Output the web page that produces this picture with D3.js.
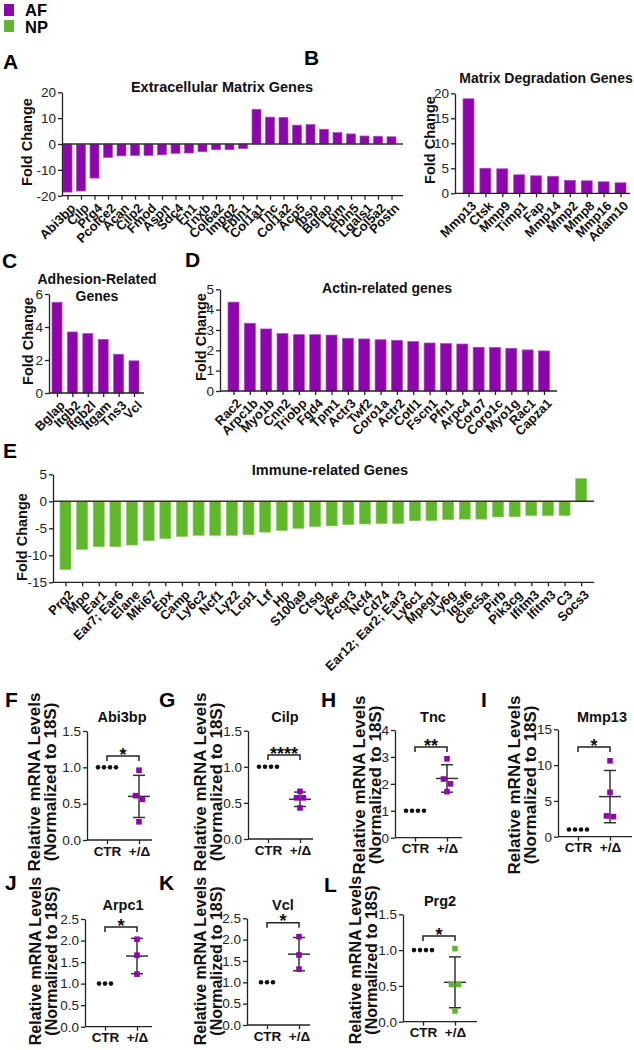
<!DOCTYPE html>
<html>
<head>
<meta charset="utf-8">
<script src="https://cdnjs.cloudflare.com/ajax/libs/d3/7.8.5/d3.min.js"></script>
<style>
body { margin: 0; background: #fff; }
text { font-family: "Liberation Sans", Arial, sans-serif; fill: #111; }
.axis path, .axis line { stroke: #222; stroke-width: 1.3; }
.axis text { font-size: 13.5px; fill: #222; }
.genes text { font-size: 13px; font-weight: bold; fill: #111; }
</style>
</head>
<body>
<div id="fig"></div>
<script>
var svgWidth = 634;
var svgHeight = 1050;

var purple = "#8e04ad", purpleEdge = "#a94cc4";
var green = "#5fb72b", greenEdge = "#86cc5c";

// legend
var legendKeys = ["AF", "NP"];

// A - extracellular matrix
var ecmGenes = ["Abi3bp","Cilp","Prg4","Pcolce2","Acan","Cilp2","Fmod","Aspn","Sdc4","Fn1","Tnxb","Col6a2","Impg2","Fbln1",
  "Col1a1","Tnc","Col1a2","Acp5","Ibsp","Bglap","Lum","Fbln5","Lgals1","Col5a2","Postn"];
var ecmFold = [-18.6,-18.2,-13.2,-5.2,-4.6,-4.4,-4.4,-4.2,-3.6,-3.5,-3.0,-2.2,-2.2,-1.8,
  13.4,10.4,10.3,7.3,7.5,5.7,4.4,3.9,3.1,3.0,2.8];
var ecmTicks = [-20,-10,0,10,20];

// B - matrix degradation
var degGenes = ["Mmp13","Ctsk","Mmp9","Timp1","Fap","Mmp14","Mmp2","Mmp8","Mmp16","Adam10"];
var degFold = [18.9,5.0,4.9,3.7,3.5,3.4,2.6,2.5,2.3,2.1];
var degTicks = [0,5,10,15,20];

// C - adhesion
var adhGenes = ["Bglap","Itgb2","Itgb2l","Itgam","Tns3","Vcl"];
var adhFold = [5.5,3.7,3.6,3.25,2.35,1.95];
var adhTicks = [0,2,4,6];

// D - actin
var actGenes = ["Rac2","Arpc1b","Myo1b","Cnn2","Triobp","Fgd4","Tpm1","Actr3","Twf2","Coro1a","Actr2","Cotl1","Fscn1","Pfn1",
  "Arpc4","Coro7","Coro1c","Myo1g","Rac1","Capza1"];
var actFold = [4.37,3.33,3.05,2.82,2.77,2.77,2.75,2.59,2.56,2.52,2.49,2.43,2.36,2.33,2.31,2.15,2.14,2.10,2.02,1.97];
var actTicks = [0,1,2,3,4,5];

// E - immune
var immGenes = ["Prg2","Mpo","Ear1","Ear7; Ear6","Elane","Mki67","Epx","Camp","Ly6c2","Ncf1","Lyz2","Lcp1","Ltf","Hp","S100a9",
  "Ctsg","Ly6e","Fcgr3","Ncf4","Cd74","Ear12; Ear2; Ear3","Ly6c1","Mpeg1","Ly6g","Igsf6","Clec5a","Pirb","Pik3cg","Ifitm3",
  "Ifitm3","C3","Socs3"];
var immFold = [-12.6,-8.9,-8.4,-8.4,-8.1,-7.3,-6.9,-6.5,-6.3,-6.3,-6.3,-6.2,-5.7,-5.4,-5.0,
  -4.7,-4.55,-4.3,-4.2,-4.1,-4.1,-3.6,-3.55,-3.4,-3.3,-3.3,-2.9,-2.85,-2.65,-2.65,-2.6,4.2];
var immTicks = [-15,-10,-5,0,5];

// F-L qPCR
var qpcrGenes = ["Abi3bp","Cilp","Tnc","Mmp13","Arpc1","Vcl","Prg2"];
var qpcrGroups = ["CTR","+/Δ"];
var qpcrTissue = ["AF","AF","AF","AF","AF","AF","NP"];
var ctrLevels = [[1,1,1,1],[1,1,1,1],[1,1,1,1],[1,1,1,1],[1,1,1],[1,1,1],[1,1,1,1]];
var mutLevels = [[0.96,0.61,0.56,0.25],[0.66,0.57,0.57,0.43],[2.93,2.18,2.0,1.71],[10.6,6.2,2.8,2.9],
  [2.03,1.66,1.22],[2.07,1.64,1.31],[1.02,0.52,0.52,0.15]];
var mutMean = [0.6,0.55,2.2,5.6,1.64,1.66,0.55];
var mutSD = [0.29,0.1,0.51,3.65,0.41,0.39,0.355];
var qpcrMax = [1.5,1.5,4,15,2.5,2.5,1.5];
var qpcrStep = [0.5,0.5,1,5,0.5,0.5,0.5];
var qpcrStars = ["*","****","**","*","*","*","*"];

var svg = d3.select("#fig").append("svg")
  .attr("width", svgWidth)
  .attr("height", svgHeight);

function tissueColor(t) { return t === "AF" ? purple : green; }

// plain hyphen minus like the original figure
var intFmt = d => String(d);

// legend
legendKeys.forEach(function(k, i) {
  svg.append("rect").attr("x", 4).attr("y", 4 + i * 16).attr("width", 10).attr("height", 12)
    .attr("fill", tissueColor(k));
  svg.append("text").attr("x", 25).attr("y", 16 + i * 17).text(k)
    .attr("font-size", 16.5).attr("font-weight", "bold").style("fill", "#000");
});

function letter(t, x, y) {
  svg.append("text").attr("x", x).attr("y", y).text(t)
    .attr("font-size", 21).attr("font-weight", "bold").style("fill", "#000");
}

function yTitle(lines, x, y, size, gap) {
  lines.forEach(function(s, i) {
    svg.append("text")
      .attr("transform", `translate(${x + i * gap}, ${y}) rotate(-90)`)
      .attr("text-anchor", "middle")
      .attr("font-size", size).attr("font-weight", "bold")
      .text(s);
  });
}

// bar chart panels
function barPanel(o) {
  var g = svg.append("g");
  var n = o.genes.length;
  var x = d3.scalePoint().domain(d3.range(n)).range([o.c0, o.c1]);
  var y = d3.scaleLinear().domain(o.domain).range([o.yb, o.yt]);

  g.selectAll("rect.bar").data(o.vals).enter().append("rect")
    .attr("x", (d, i) => x(i) - o.bw / 2)
    .attr("width", o.bw)
    .attr("y", d => y(Math.max(0, d)))
    .attr("height", d => Math.abs(y(d) - y(0)))
    .attr("fill", o.color)
    .attr("stroke", o.edge)
    .attr("stroke-width", 0.7);

  g.append("g").attr("class", "axis")
    .attr("transform", `translate(${o.ax}, 0)`)
    .call(d3.axisLeft(y).tickValues(o.ticks).tickFormat(intFmt)
      .tickSize(4).tickSizeOuter(0).tickPadding(2));

  var base = y(o.domain[0]);
  var xAxis = g.append("g").attr("class", "axis genes")
    .attr("transform", `translate(0, ${base})`)
    .call(d3.axisBottom(x).tickSize(4).tickSizeOuter(0).tickFormat(i => o.genes[i]));
  xAxis.select(".domain").remove();
  xAxis.append("line").attr("x1", o.ax).attr("x2", o.xEnd).attr("y1", 0).attr("y2", 0)
    .attr("stroke", "#222").attr("stroke-width", 1.3);
  xAxis.selectAll("text")
    .attr("x", 0).attr("y", 0).attr("dy", "0.35em")
    .attr("transform", "translate(5,10) rotate(-45)")
    .style("text-anchor", "end");

  // zero line for panels with negative values
  if (o.domain[0] < 0) {
    g.append("line").attr("x1", o.ax).attr("x2", o.xEnd)
      .attr("y1", y(0)).attr("y2", y(0))
      .attr("stroke", "#333").attr("stroke-width", 1.6);
  }

  o.title.forEach(function(s, i) {
    g.append("text").attr("x", o.tx).attr("y", o.ty + i * 17)
      .attr("text-anchor", "middle").attr("font-size", o.tsize).attr("font-weight", "bold")
      .text(s);
  });
  yTitle(["Fold Change"], o.fx, o.fy, 14.5, 0);
}

letter("A", 3, 69);
barPanel({genes: ecmGenes, vals: ecmFold, ticks: ecmTicks, domain: [-20, 20], color: purple, edge: purpleEdge,
  c0: 67.5, c1: 391.5, bw: 9, ax: 62, xEnd: 403, yt: 92.3, yb: 195.7,
  title: ["Extracellular Matrix Genes"], tx: 222, ty: 92, tsize: 14.5, fx: 32, fy: 142});

letter("B", 304, 65);
barPanel({genes: degGenes, vals: degFold, ticks: degTicks, domain: [0, 20], color: purple, edge: purpleEdge,
  c0: 468.5, c1: 620.5, bw: 11, ax: 455, xEnd: 630, yt: 93.3, yb: 193.3,
  title: ["Matrix Degradation Genes"], tx: 546, ty: 83, tsize: 14, fx: 435, fy: 140});

letter("C", 2, 268);
barPanel({genes: adhGenes, vals: adhFold, ticks: adhTicks, domain: [0, 6], color: purple, edge: purpleEdge,
  c0: 57, c1: 134, bw: 10, ax: 49, xEnd: 144, yt: 294, yb: 393,
  title: ["Adhesion-Related", "Genes"], tx: 97, ty: 284, tsize: 14, fx: 33, fy: 341});

letter("D", 185, 267);
barPanel({genes: actGenes, vals: actFold, ticks: actTicks, domain: [0, 5], color: purple, edge: purpleEdge,
  c0: 233.5, c1: 544, bw: 11, ax: 220, xEnd: 557, yt: 289.3, yb: 391,
  title: ["Actin-related genes"], tx: 387, ty: 293, tsize: 14, fx: 206, fy: 337});

letter("E", 3, 458);
barPanel({genes: immGenes, vals: immFold, ticks: immTicks, domain: [-15, 5], color: green, edge: greenEdge,
  c0: 65.5, c1: 581.2, bw: 11, ax: 53, xEnd: 594, yt: 474.3, yb: 582.3,
  title: ["Immune-related Genes"], tx: 330, ty: 475, tsize: 14.5, fx: 27, fy: 537});

// qPCR dot plots
var dotLayout = [
  {letter: "F", lx: 5, ly: 707, ax: 87, xEnd: 152, yt: 731, yb: 840, by: 756, tx: 122, ty: 722, lab: 40, labY: 782, ls: 17},
  {letter: "G", lx: 159, ly: 707, ax: 248, xEnd: 313, yt: 730.7, yb: 839, by: 755, tx: 285, ty: 722, lab: 206, labY: 782, ls: 17},
  {letter: "H", lx: 321, ly: 707, ax: 395, xEnd: 462, yt: 730, yb: 837.7, by: 747, tx: 433, ty: 722, lab: 365, labY: 785, ls: 17},
  {letter: "I", lx: 481, ly: 707, ax: 558, xEnd: 632, yt: 729.3, yb: 836.7, by: 747, tx: 602, ty: 722, lab: 520, labY: 785, ls: 17},
  {letter: "J", lx: 5, ly: 890, ax: 85, xEnd: 152, yt: 919, yb: 1026.7, by: 927, tx: 123, ty: 910, lab: 41, labY: 961, ls: 16},
  {letter: "K", lx: 159, ly: 890, ax: 247, xEnd: 310, yt: 918.3, yb: 1025, by: 922.7, tx: 283, ty: 910, lab: 206, labY: 961, ls: 16},
  {letter: "L", lx: 324, ly: 892, ax: 403, xEnd: 477, yt: 914.3, yb: 1021.7, by: 936, tx: 440, ty: 906, lab: 361, labY: 960, ls: 16}
];

// spread points that overlap in pixel space, symmetric around the group centre
function swarm(vals, y, gapY, spacing) {
  var idx = vals.map((v, i) => i).sort((a, b) => y(vals[a]) - y(vals[b]));
  var off = vals.map(() => 0);
  var clusters = [];
  idx.forEach(function(i) {
    var last = clusters[clusters.length - 1];
    if (last && Math.abs(y(vals[i]) - y(vals[last[last.length - 1]])) < gapY) last.push(i);
    else clusters.push([i]);
  });
  clusters.forEach(function(c) {
    c.forEach(function(i, k) { off[i] = (k - (c.length - 1) / 2) * spacing; });
  });
  return off;
}

function dotPanel(p, L) {
  var g = svg.append("g");
  var x = d3.scalePoint().domain(qpcrGroups).range([L.ax + 20, L.ax + 52]);
  var y = d3.scaleLinear().domain([0, qpcrMax[p]]).range([L.yb, L.yt]);
  var fmt = qpcrStep[p] < 1 ? d3.format(".1f") : intFmt;

  g.append("g").attr("class", "axis")
    .attr("transform", `translate(${L.ax}, 0)`)
    .call(d3.axisLeft(y).tickValues(d3.range(0, qpcrMax[p] + 1e-6, qpcrStep[p]))
      .tickFormat(fmt).tickSize(4).tickSizeOuter(0).tickPadding(2));

  var xa = g.append("g").attr("class", "axis")
    .attr("transform", `translate(0, ${L.yb})`)
    .call(d3.axisBottom(x).tickSize(4).tickSizeOuter(0).tickPadding(3));
  xa.select(".domain").remove();
  xa.append("line").attr("x1", L.ax).attr("x2", L.xEnd).attr("stroke", "#222").attr("stroke-width", 1.3);
  xa.selectAll("text").attr("font-size", 13).attr("font-weight", "bold").style("fill", "#111")
    .attr("dy", "0.71em").attr("y", 6);

  // control points
  var cOff = swarm(ctrLevels[p], y, 5, 6);
  g.selectAll("circle.ctr").data(ctrLevels[p]).enter().append("circle")
    .attr("cx", (d, i) => x("CTR") + cOff[i])
    .attr("cy", d => y(d))
    .attr("r", 2.3)
    .attr("fill", "#111");

  // mutant mean +/- SD
  var mx = x("+/Δ");
  var lo = y(mutMean[p] - mutSD[p]), hi = y(mutMean[p] + mutSD[p]);
  g.append("line").attr("x1", mx).attr("x2", mx).attr("y1", lo).attr("y2", hi)
    .attr("stroke", "#333").attr("stroke-width", 1.5);
  [lo, hi].forEach(function(yy) {
    g.append("line").attr("x1", mx - 6).attr("x2", mx + 6).attr("y1", yy).attr("y2", yy)
      .attr("stroke", "#333").attr("stroke-width", 1.5);
  });
  g.append("line").attr("x1", mx - 11).attr("x2", mx + 11)
    .attr("y1", y(mutMean[p])).attr("y2", y(mutMean[p]))
    .attr("stroke", "#333").attr("stroke-width", 1.5);

  var mOff = swarm(mutLevels[p], y, 6, 7);
  g.selectAll("rect.mut").data(mutLevels[p]).enter().append("rect")
    .attr("x", (d, i) => mx + mOff[i] - 2.8)
    .attr("y", d => y(d) - 2.8)
    .attr("width", 5.6).attr("height", 5.6)
    .attr("fill", tissueColor(qpcrTissue[p]));

  // significance bracket
  var x0 = x("CTR"), x1 = mx;
  g.append("path")
    .attr("d", `M${x0},${L.by + 5}V${L.by}H${x1}V${L.by + 5}`)
    .attr("fill", "none").attr("stroke", "#222").attr("stroke-width", 1.5);
  g.append("text").attr("x", (x0 + x1) / 2).attr("y", L.by + 4.5)
    .attr("text-anchor", "middle").attr("font-size", 18).attr("font-weight", "bold")
    .text(qpcrStars[p]);

  g.append("text").attr("x", L.tx).attr("y", L.ty).attr("text-anchor", "middle")
    .attr("font-size", 14.5).attr("font-weight", "bold").text(qpcrGenes[p]);

  letter(L.letter, L.lx, L.ly);
  yTitle(["Relative mRNA Levels", "(Normalized to 18S)"], L.lab, L.labY, L.ls, 15.5);
}

dotLayout.forEach(function(L, p) { dotPanel(p, L); });
</script>
</body>
</html>
